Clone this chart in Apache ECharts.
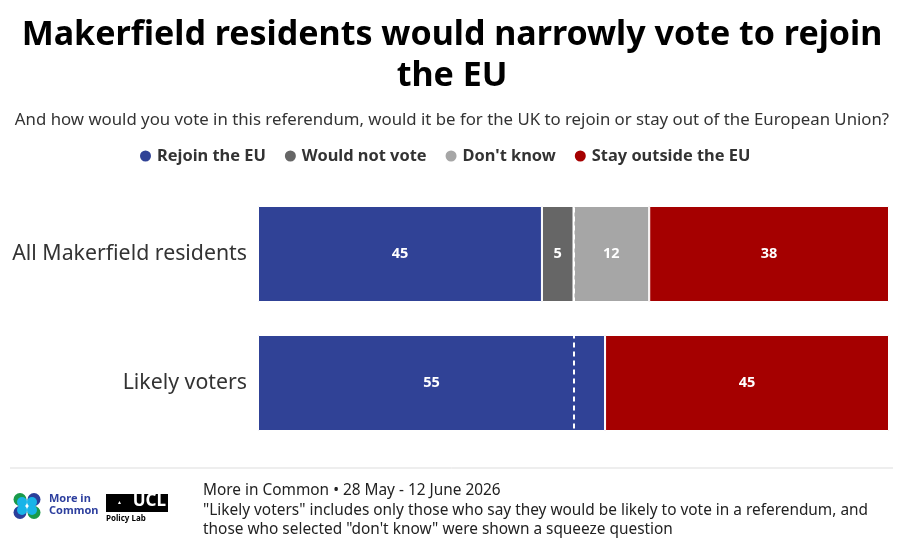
<!DOCTYPE html>
<html><head><meta charset="utf-8">
<script src="https://cdn.jsdelivr.net/npm/echarts@6/dist/echarts.min.js"></script>
<style>html,body{margin:0;padding:0;background:#fff}#c{width:904px;height:552px}</style>
</head><body><div id="c"></div>
<script>
const categories = ['All Makerfield residents', 'Likely voters'];
const seriesNames = ['Rejoin the EU', 'Would not vote', "Don't know", 'Stay outside the EU'];
const rejoin = [45, 55];
const wouldNotVote = [5, null];
const dontKnow = [12, null];
const stayOutside = [38, 45];
const midpoint = 50;
const colors = ['#304296', '#666666', '#a6a6a6', '#a50000'];

const FONT = '"Noto Sans", sans-serif';
const chart = echarts.init(document.getElementById('c'), null, {renderer: 'canvas'});
const valuesList = [rejoin, wouldNotVote, dontKnow, stayOutside];
const series = valuesList.map((vals, i) => ({
  name: seriesNames[i],
  type: 'bar',
  stack: 'total',
  barWidth: 96,
  data: vals,
  itemStyle: {color: colors[i], borderColor: '#ffffff', borderWidth: 1},
  label: {show: true, position: 'inside', color: '#fff', fontWeight: 'bold', fontSize: 14.5, fontFamily: FONT},
  emphasis: {disabled: true},
  markLine: i === 0 ? {
    silent: true, symbol: 'none', label: {show: false},
    lineStyle: {color: '#ffffff', type: [5, 4], width: 2},
    data: [{xAxis: midpoint}]
  } : undefined,
  z: i === 0 ? 3 : 2
}));

chart.setOption({
  animation: false,
  backgroundColor: '#ffffff',
  title: [{
    text: 'Makerfield residents would narrowly vote to rejoin\nthe EU',
    left: 'center', top: 10,
    textStyle: {fontFamily: FONT, fontWeight: 'bold', fontSize: 34, color: '#000', lineHeight: 41}
  }, {
    text: 'And how would you vote in this referendum, would it be for the UK to rejoin or stay out of the European Union?',
    left: 'center', top: 107,
    textStyle: {fontFamily: FONT, fontWeight: 'normal', fontSize: 16.8, color: '#333'}
  }],
  legend: {
    top: 143, left: 133, icon: 'circle', itemWidth: 13, itemHeight: 13, itemGap: 17,
    textStyle: {fontFamily: FONT, fontWeight: 'bold', fontSize: 16.4, color: '#333'},
    data: seriesNames, selectedMode: false
  },
  grid: {left: 258, right: 15, top: 189.5, bottom: 104.5, containLabel: false},
  xAxis: {type: 'value', min: 0, max: 100, show: false},
  yAxis: {
    type: 'category', data: categories, inverse: true,
    axisLine: {show: false}, axisTick: {show: false},
    axisLabel: {fontFamily: FONT, fontSize: 21.3, color: '#333', margin: 11}
  },
  series: series,
  graphic: [
    {type: 'line', shape: {x1: 10, y1: 468, x2: 893, y2: 468}, style: {stroke: '#dddddd', lineWidth: 1}},
    {type: 'circle', shape: {cx: 20, cy: 499.5, r: 6.5}, style: {fill: '#1a9a4a'}},
    {type: 'circle', shape: {cx: 34, cy: 499.5, r: 6.5}, style: {fill: '#2a3f9a'}},
    {type: 'circle', shape: {cx: 20, cy: 512.5, r: 6.5}, style: {fill: '#2a3f9a'}},
    {type: 'circle', shape: {cx: 34, cy: 512.5, r: 6.5}, style: {fill: '#1a9a4a'}},
    {type: 'circle', shape: {cx: 22, cy: 502, r: 5}, style: {fill: '#18b4e8'}},
    {type: 'circle', shape: {cx: 32, cy: 502, r: 5}, style: {fill: '#18b4e8'}},
    {type: 'circle', shape: {cx: 22, cy: 510, r: 5}, style: {fill: '#18b4e8'}},
    {type: 'circle', shape: {cx: 32, cy: 510, r: 5}, style: {fill: '#18b4e8'}},
    {type: 'text', left: 49, top: 493, style: {text: 'More in\nCommon', fill: '#2d3f9e', font: 'bold 11px ' + FONT, lineHeight: 12}},
    {type: 'rect', shape: {x: 106, y: 494, width: 62, height: 18}, style: {fill: '#000'}},
    {type: 'text', right: 904 - 166, top: 493, style: {text: 'UCL', fill: '#fff', font: 'bold 17px ' + FONT}},
    {type: 'text', left: 117, top: 500, style: {text: '▲', fill: '#fff', font: 'bold 5px ' + FONT}},
    {type: 'text', left: 106, top: 515, style: {text: 'Policy Lab', fill: '#000', font: 'bold 8px ' + FONT}},
    {type: 'text', left: 203, top: 481, style: {
      text: 'More in Common • 28 May - 12 June 2026\n"Likely voters" includes only those who say they would be likely to vote in a referendum, and\nthose who selected "don\'t know" were shown a squeeze question',
      fill: '#222', font: '15.4px ' + FONT, lineHeight: 19.5}}
  ]
});
</script></body></html>
